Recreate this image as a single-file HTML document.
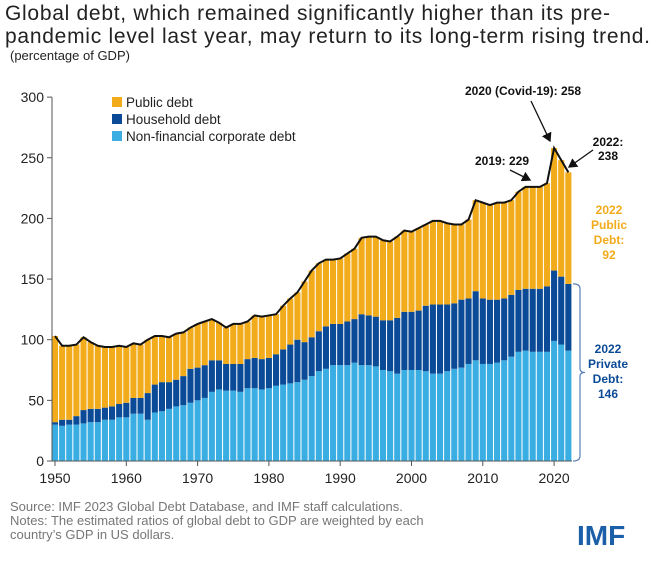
<!DOCTYPE html>
<html><head><meta charset="utf-8"><style>
body{margin:0;width:667px;height:565px;background:#fff;overflow:hidden;font-family:"Liberation Sans",sans-serif}
svg{position:absolute;left:0;top:0}
</style></head><body>
<svg id="chart" width="667" height="565">
<text x="5" y="20" font-size="21" fill="#222" textLength="605">Global debt, which remained significantly higher than its pre-</text>
<text x="5" y="43" font-size="21" fill="#222" textLength="645">pandemic level last year, may return to its long-term rising trend.</text>
<text x="10" y="60" font-size="13" fill="#222">(percentage of GDP)</text>
<g id="bars"></g>
<g id="axes"></g>
<g>
<rect x="112" y="97" width="10" height="10" fill="#f2ab1b"/>
<text x="126" y="107" font-size="13.5" fill="#222">Public debt</text>
<rect x="112" y="114" width="10" height="10" fill="#0b4a96"/>
<text x="126" y="124" font-size="13.5" fill="#222">Household debt</text>
<rect x="112" y="131" width="10" height="10" fill="#3aaee2"/>
<text x="126" y="141" font-size="13.5" fill="#222">Non-financial corporate debt</text>
</g>
<g font-weight="bold" font-size="12" fill="#111" text-anchor="middle">
<text x="523" y="95">2020 (Covid-19): 258</text>
<text x="502" y="165">2019: 229</text>
<text x="608" y="146">2022:</text>
<text x="608" y="160">238</text>
</g>
<defs><marker id="ah" markerWidth="8" markerHeight="8" refX="6" refY="4" orient="auto"><path d="M0,0 L7,4 L0,8 z" fill="#111"/></marker></defs>
<line x1="531" y1="101" x2="550" y2="141" stroke="#111" stroke-width="1.3" marker-end="url(#ah)"/>
<line x1="510" y1="170" x2="530" y2="180" stroke="#111" stroke-width="1.3" marker-end="url(#ah)"/>
<line x1="593" y1="150" x2="569" y2="167" stroke="#111" stroke-width="1.3" marker-end="url(#ah)"/>
<g font-weight="bold" font-size="12" fill="#f2ab1b" text-anchor="middle">
<text x="609" y="214">2022</text><text x="609" y="229">Public</text><text x="609" y="244">Debt:</text><text x="609" y="259">92</text></g>
<g font-weight="bold" font-size="12" fill="#0b4a96" text-anchor="middle">
<text x="608" y="353">2022</text><text x="608" y="368">Private</text><text x="608" y="383">Debt:</text><text x="608" y="398">146</text></g>
<path id="brace" fill="none" stroke="#5a7fb8" stroke-width="1.2"/>
<g font-size="13" fill="#777">
<text x="10" y="511">Source: IMF 2023 Global Debt Database, and IMF staff calculations.</text>
<text x="10" y="525">Notes: The estimated ratios of global debt to GDP are weighted by each</text>
<text x="10" y="539">country’s GDP in US dollars.</text>
</g>
<text x="577" y="545" font-size="28" font-weight="bold" fill="#1b5fa8">IMF</text>
</svg>
<script>
const years=[];for(let y=1950;y<=2022;y++)years.push(y);
const totalDebt=[103,95,95,96,102,98,95,94,94,95,94,97,96,100,103,103,102,105,106,110,113,115,117,114,110,113,113,115,120,119,120,121,128,134,139,148,157,163,166,166,167,171,175,184,185,185,182,181,185,190,189,192,195,198,198,196,195,195,199,215,213,211,213,213,215,222,226,226,226,229,258,248,238];
const corpHouse=[32,34,34,37,42,43,43,44,45,47,48,52,52,56,63,65,65,67,70,76,77,79,83,83,80,80,80,84,85,84,85,88,92,96,100,98,102,107,111,113,113,115,117,121,120,119,116,116,118,123,123,124,128,129,129,129,130,133,134,140,134,133,133,134,137,141,142,142,142,144,157,152,146];
const corporate=[30,29,30,30,31,32,32,34,34,36,36,39,39,34,40,41,43,45,46,48,50,52,57,59,58,58,57,60,60,59,60,62,63,64,65,67,70,74,76,79,79,79,81,79,79,78,75,74,72,75,75,75,74,72,72,74,76,77,80,83,80,80,81,83,86,90,91,90,90,90,99,96,91];
const yTicks=[0,50,100,150,200,250,300];
const xTicks=[1950,1960,1970,1980,1990,2000,2010,2020];
const NS='http://www.w3.org/2000/svg';
const X=y=>55+7.13*(y-1950), Y=v=>461-1.213*v;
const bars=document.getElementById('bars'), axes=document.getElementById('axes');
function mk(tag,attrs,parent){const e=document.createElementNS(NS,tag);for(const k in attrs)e.setAttribute(k,attrs[k]);parent.appendChild(e);return e;}
const bw=6.1;
years.forEach((yr,i)=>{
  const x=X(yr)-bw/2;
  const a=mk('rect',{x:x,y:Y(corporate[i]),width:bw,height:Y(0)-Y(corporate[i]),fill:'#3aaee2'},bars);
  
  
  const b=mk('rect',{x:x,y:Y(corpHouse[i]),width:bw,height:Y(corporate[i])-Y(corpHouse[i]),fill:'#0b4a96'},bars);
  
  
  const c=mk('rect',{x:x,y:Y(totalDebt[i]),width:bw,height:Y(corpHouse[i])-Y(totalDebt[i]),fill:'#f2ab1b'},bars);
  
  
});
const pts=years.map((yr,i)=>X(yr)+','+Y(totalDebt[i])).join(' ');
const pl=mk('polyline',{points:pts,fill:'none',stroke:'#111','stroke-width':2},bars);


const ax=mk('line',{x1:52,y1:Y(0),x2:52,y2:Y(300),stroke:'#555','stroke-width':1},axes);


const xa=mk('line',{x1:52,y1:Y(0),x2:572,y2:Y(0),stroke:'#555','stroke-width':1},axes);


yTicks.forEach(v=>{
  const t=mk('text',{x:44,y:Y(v)+5,'font-size':14,fill:'#222','text-anchor':'end'},axes);t.textContent=v;
  
  
  const l=mk('line',{x1:47,x2:52,y1:Y(v),y2:Y(v),stroke:'#555'},axes);
  
  
});
xTicks.forEach(v=>{
  const t=mk('text',{x:X(v),y:483,'font-size':14,fill:'#222','text-anchor':'middle'},axes);t.textContent=v;
  
  
  const l=mk('line',{x1:X(v),x2:X(v),y1:Y(0),y2:Y(0)+5,stroke:'#555'},axes);
  
  
});
const bTop=Y(corpHouse[corpHouse.length-1]), bBot=Y(0), bMid=(bTop+bBot)/2;
document.getElementById('brace').setAttribute('d',`M573,${bTop} Q580,${bTop} 580,${bTop+5} L580,${bMid-4} Q580,${bMid} 585,${bMid} Q580,${bMid} 580,${bMid+4} L580,${bBot-5} Q580,${bBot} 573,${bBot}`);
</script>
</body></html>
